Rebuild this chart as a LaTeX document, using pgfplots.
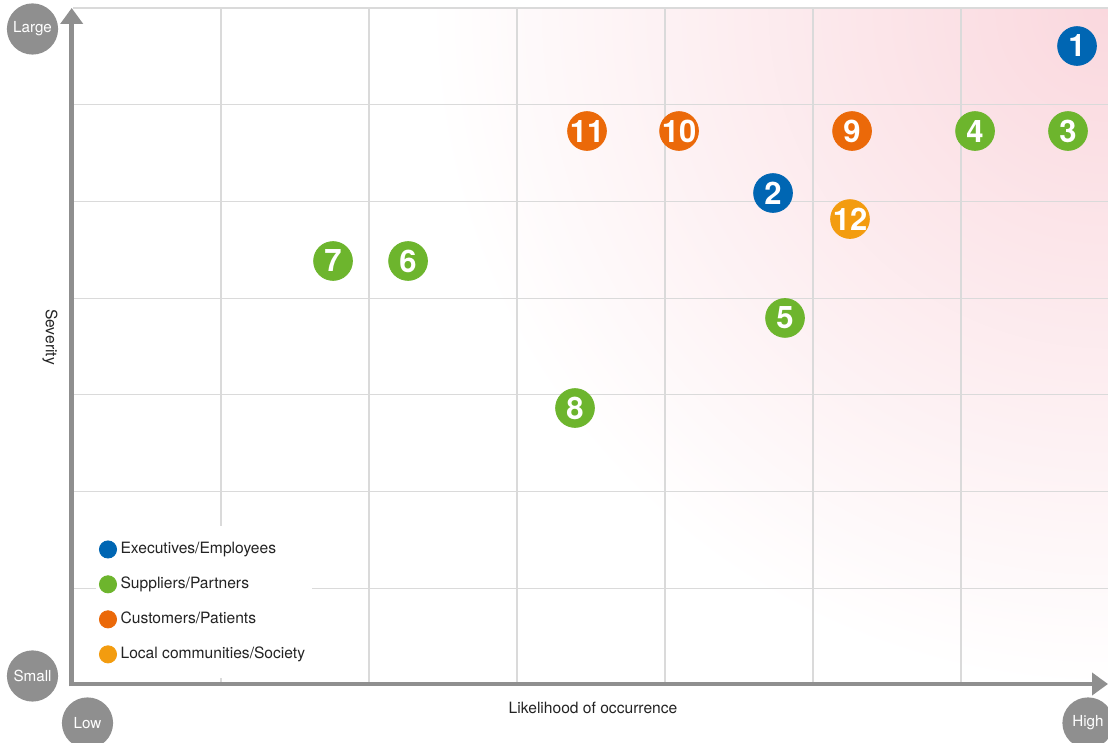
\documentclass[border=0pt]{standalone}
\usepackage{pgfplots}
\pgfplotsset{compat=1.18}
\usepackage{fontspec}
\setmainfont{TeX Gyre Heros}
\usetikzlibrary{arrows.meta}
\definecolor{cBlue}{RGB}{0,102,179}
\definecolor{cGreen}{RGB}{109,181,45}
\definecolor{cRed}{RGB}{235,105,9}
\definecolor{cOrange}{RGB}{243,156,15}
\definecolor{cGray}{RGB}{143,143,143}
\definecolor{cGrid}{RGB}{218,218,218}
\definecolor{cPink}{RGB}{250,216,222}
\definecolor{cText}{RGB}{35,35,35}
\begin{document}
\begin{tikzpicture}
\clip (0,0) rectangle (554bp,371.5bp);
\fill[white] (0,0) rectangle (554bp,371.5bp);
\begin{scope}
\clip (36.5bp,29bp) rectangle (554bp,367.5bp);
\shade[inner color=cPink, outer color=white] (554bp,367.5bp) circle (340bp);
\end{scope}
\begin{axis}[
  at={(36.5bp,29bp)}, anchor=south west,
  scale only axis, width=518bp, height=338.5bp,
  xmin=0, xmax=7, ymin=0, ymax=7,
  xtick={1,2,3,4,5,6}, ytick={1,2,3,4,5,6,7},
  xticklabels={}, yticklabels={},
  major tick length=0pt,
  grid=major, grid style={draw=cGrid, line width=0.6bp},
  axis line style={draw=none},
  clip=false,
  point meta=explicit symbolic,
  nodes near coords,
  every node near coord/.append style={anchor=center, text=white,
     font=\fontsize{15.5bp}{16bp}\selectfont\bfseries, inner sep=0pt},
  legend style={at={(0.0222,0.235)}, anchor=north west, draw=none, fill=white,
     font=\fontsize{7.8bp}{9bp}\selectfont, text=cText, row sep=6.2bp,
     inner xsep=1.5bp, inner ysep=6bp},
  legend cell align=left,
  legend image code/.code={\draw[#1, mark size=4.3bp] plot coordinates {(4.5bp,0bp)};},
]
\addplot[only marks, mark=*, mark size=9.7bp, color=cBlue] coordinates {
 (6.784,6.607) [1]
 (4.730,5.087) [2]
};
\addlegendentry{Executives/Employees}
\addplot[only marks, mark=*, mark size=9.7bp, color=cGreen] coordinates {
 (6.723,5.728) [3]
 (6.095,5.728) [4]
 (4.811,3.795) [5]
 (2.264,4.384) [6]
 (1.757,4.384) [7]
 (3.392,2.864) [8]
};
\addlegendentry{Suppliers/Partners}
\addplot[only marks, mark=*, mark size=9.7bp, color=cRed] coordinates {
 (5.264,5.728) [9]
 (4.095,5.728) [10]
 (3.473,5.728) [11]
};
\addlegendentry{Customers/Patients}
\addplot[only marks, mark=*, mark size=9.7bp, color=cOrange] coordinates {
 (5.250,4.818) [12]
};
\addlegendentry{Local communities/Society}
\end{axis}
% axis arrows
\draw[cGray, line width=2.4bp, -{Triangle[width=11bp,length=8bp]}] (35.85bp,28.3bp) -- (35.85bp,367.5bp);
\draw[cGray, line width=2.4bp, -{Triangle[width=11bp,length=8bp]}] (34.6bp,29.5bp) -- (554bp,29.5bp);
% axis titles
\node[font=\fontsize{7.8bp}{9bp}\selectfont, text=cText] at (296.5bp,17.5bp) {Likelihood of occurrence};
\node[font=\fontsize{7.8bp}{9bp}\selectfont, text=cText, rotate=-90] at (25bp,203bp) {Severity};
% corner badges
\foreach \p/\t in {{(16.25bp,357bp)}/Large, {(16.25bp,33.5bp)}/Small, {(43.75bp,10bp)}/Low, {(544bp,10bp)}/High}{
  \fill[cGray] \p circle (12.8bp);
  \node[text=white, font=\fontsize{7.6bp}{9bp}\selectfont] at \p {\t};
}
\end{tikzpicture}
\end{document}
